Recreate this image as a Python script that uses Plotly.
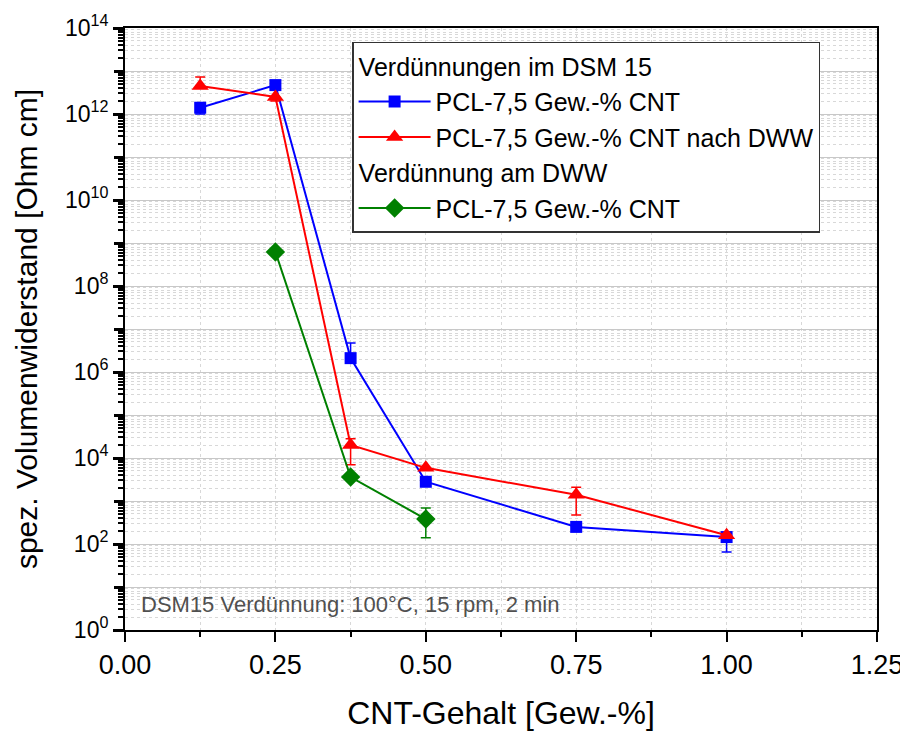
import plotly.graph_objects as go

# Data
x_blue = [0.125, 0.25, 0.375, 0.5, 0.75, 1.0]
y_blue = [1.4e12, 4.7e12, 2.1e6, 2.8e3, 2.5e2, 1.45e2]
err_blue_plus = [0, 0, 2.6e6, 0, 0, 0]
err_blue_minus = [0.4e12, 0, 0, 0, 0, 80]

x_red = [0.125, 0.25, 0.375, 0.5, 0.75, 1.0]
y_red = [4.5e12, 2.5e12, 2.0e4, 5.9e3, 1.4e3, 1.6e2]
err_red_plus = [2.8e12, 0, 0.8e4, 0, 700, 0]
err_red_minus = [0, 0.5e12, 1.3e4, 0, 930, 0]

x_green = [0.25, 0.375, 0.5]
y_green = [6.2e8, 3.6e3, 3.8e2]
err_green_plus = [0, 0, 310]
err_green_minus = [0, 0, 240]

group1_title = "Verdünnungen im DSM 15"
group2_title = "Verdünnung am DWW"
name_blue = "PCL-7,5 Gew.-% CNT"
name_red = "PCL-7,5 Gew.-% CNT nach DWW"
name_green = "PCL-7,5 Gew.-% CNT"

x_title = "CNT-Gehalt [Gew.-%]"
y_title = "spez. Volumenwiderstand [Ohm cm]"
note = "DSM15 Verdünnung: 100°C, 15 rpm, 2 min"

x_ticks = [0.0, 0.25, 0.5, 0.75, 1.0, 1.25]
x_ticktext = ["0.00", "0.25", "0.50", "0.75", "1.00", "1.25"]
y_label_exps = [0, 2, 4, 6, 8, 10, 12, 14]
y_odd_exps = [1, 3, 5, 7, 9, 11, 13]

BLUE = "#0000ff"
RED = "#ff0000"
GREEN = "#008000"
FONT = "Liberation Sans, Arial, sans-serif"

fig = go.Figure()

fig.add_trace(go.Scatter(
    x=x_blue, y=y_blue, mode="lines+markers", name=name_blue,
    legendgroup="g1", legendgrouptitle=dict(text=group1_title),
    line=dict(color=BLUE, width=2),
    marker=dict(symbol="square", size=12, color=BLUE),
    error_y=dict(type="data", symmetric=False, array=err_blue_plus,
                 arrayminus=err_blue_minus, color=BLUE, thickness=1.5, width=5),
))
fig.add_trace(go.Scatter(
    x=x_red, y=y_red, mode="lines+markers", name=name_red,
    legendgroup="g1",
    line=dict(color=RED, width=2),
    marker=dict(symbol="triangle-up", size=15, color=RED),
    error_y=dict(type="data", symmetric=False, array=err_red_plus,
                 arrayminus=err_red_minus, color=RED, thickness=1.5, width=5),
))
fig.add_trace(go.Scatter(
    x=x_green, y=y_green, mode="lines+markers", name=name_green,
    legendgroup="g2", legendgrouptitle=dict(text=group2_title),
    line=dict(color=GREEN, width=2),
    marker=dict(symbol="diamond", size=15, color=GREEN),
    error_y=dict(type="data", symmetric=False, array=err_green_plus,
                 arrayminus=err_green_minus, color=GREEN, thickness=1.5, width=5),
))
# empty helper trace so the secondary (unlabelled odd-decade) axis is drawn
fig.add_trace(go.Scatter(x=[], y=[], yaxis="y2", showlegend=False, hoverinfo="skip"))

fig.add_annotation(
    x=0.019, y=0.043, xref="paper", yref="paper", xanchor="left", yanchor="middle",
    text=note, showarrow=False,
    font=dict(family=FONT, size=22, color="#505050"),
)

y_tickvals = [10 ** e for e in y_label_exps]
y_ticktext = [f"10<sup>{e}</sup>" for e in y_label_exps]
y_odd_vals = [10 ** e for e in y_odd_exps]

fig.update_layout(
    width=908, height=736,
    margin=dict(l=117, r=39, t=20, b=114, autoexpand=False),
    paper_bgcolor="white", plot_bgcolor="white",
    font=dict(family=FONT, color="black"),
    showlegend=True,
    legend=dict(
        x=0.302, y=0.977, xanchor="left", yanchor="top",
        bgcolor="white", bordercolor="#333333", borderwidth=1.5,
        font=dict(size=25, color="black"),
        grouptitlefont=dict(size=25, color="black"),
        tracegroupgap=0, itemwidth=72,
    ),
    xaxis=dict(
        range=[0, 1.25], tickvals=x_ticks, ticktext=x_ticktext,
        ticks="outside", ticklen=10, tickwidth=2, tickcolor="black",
        showline=True, linewidth=2, linecolor="black", mirror=True,
        showgrid=True, gridcolor="#d8d8d8", gridwidth=1, griddash="dot",
        minor=dict(dtick=0.125, tick0=0, ticks="outside", ticklen=5, tickwidth=2,
                   tickcolor="black", showgrid=True, gridcolor="#d8d8d8", griddash="dot"),
        tickfont=dict(size=27, family=FONT),
        title=dict(text=x_title, font=dict(size=32), standoff=22),
        zeroline=False, automargin=False,
    ),
    yaxis=dict(
        type="log", range=[0, 14],
        tickvals=y_tickvals, ticktext=y_ticktext,
        ticks="outside", ticklen=10, tickwidth=3, tickcolor="black",
        showline=True, linewidth=2, linecolor="black", mirror=True,
        showgrid=True, gridcolor="#c8c8c8", gridwidth=1.2,
        minor=dict(dtick="D1", ticks="outside", ticklen=5, tickwidth=2,
                   tickcolor="black", showgrid=True, gridcolor="#d8d8d8", griddash="dot"),
        tickfont=dict(size=23),
        title=dict(text=y_title, font=dict(size=30), standoff=18),
        zeroline=False, automargin=False,
    ),
    yaxis2=dict(
        type="log", range=[0, 14], overlaying="y", side="left",
        tickvals=y_odd_vals, showticklabels=False,
        ticks="outside", ticklen=10, tickwidth=3, tickcolor="black",
        showline=False, showgrid=True, gridcolor="#c8c8c8", gridwidth=1.2,
        zeroline=False, automargin=False,
    ),
)

fig.write_html("out.html")
